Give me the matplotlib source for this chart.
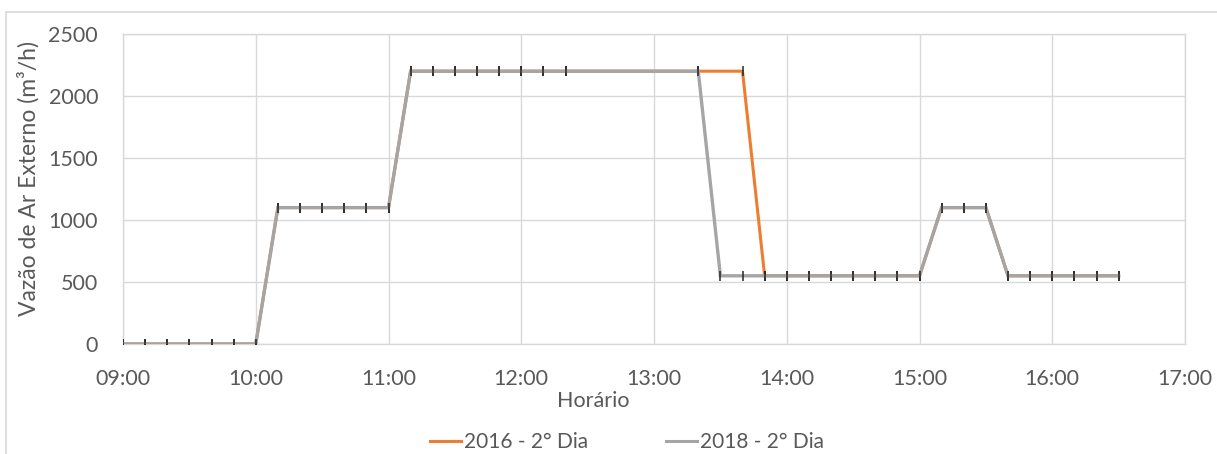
import matplotlib
matplotlib.use("Agg")
import matplotlib.pyplot as plt
from matplotlib.lines import Line2D
from matplotlib.ticker import FixedLocator, FuncFormatter

# Outdoor-air flow rate readings, 10-minute intervals
times_2018 = ["09:00", "09:10", "09:20", "09:30", "09:40", "09:50", "10:00",
              "10:10", "10:20", "10:30", "10:40", "10:50", "11:00",
              "11:10", "11:20", "11:30", "11:40", "11:50", "12:00", "12:10", "12:20",
              "13:20",
              "13:30", "13:40", "13:50", "14:00", "14:10", "14:20", "14:30", "14:40", "14:50", "15:00",
              "15:10", "15:20", "15:30",
              "15:40", "15:50", "16:00", "16:10", "16:20", "16:30"]
flow_2018 = [0, 0, 0, 0, 0, 0, 0,
             1100, 1100, 1100, 1100, 1100, 1100,
             2200, 2200, 2200, 2200, 2200, 2200, 2200, 2200,
             2200,
             550, 550, 550, 550, 550, 550, 550, 550, 550, 550,
             1100, 1100, 1100,
             550, 550, 550, 550, 550, 550]

times_2016 = ["09:00", "09:10", "09:20", "09:30", "09:40", "09:50", "10:00",
              "10:10", "10:20", "10:30", "10:40", "10:50", "11:00",
              "11:10", "11:20", "11:30", "11:40", "11:50", "12:00", "12:10", "12:20",
              "13:20", "13:40",
              "13:50", "14:00", "14:10", "14:20", "14:30", "14:40", "14:50", "15:00",
              "15:10", "15:20", "15:30",
              "15:40", "15:50", "16:00", "16:10", "16:20", "16:30"]
flow_2016 = [0, 0, 0, 0, 0, 0, 0,
             1100, 1100, 1100, 1100, 1100, 1100,
             2200, 2200, 2200, 2200, 2200, 2200, 2200, 2200,
             2200, 2200,
             550, 550, 550, 550, 550, 550, 550, 550,
             1100, 1100, 1100,
             550, 550, 550, 550, 550, 550]

series_labels = ["2016 - 2° Dia", "2018 - 2° Dia"]
hour_ticks = [9, 10, 11, 12, 13, 14, 15, 16, 17]
y_ticks = [0, 500, 1000, 1500, 2000, 2500]


def to_hours(t):
    h, m = t.split(":")
    return int(h) + int(m) / 60.0


TEXT = "#595959"
GRID = "#D9D9D9"
ORANGE = "#ED7D31"
GREY = "#A5A5A5"
FS = 15.5

plt.rcParams["font.family"] = ["Lato", "DejaVu Sans"]

W, H = 1217, 454
fig = plt.figure(figsize=(W / 100, H / 100), dpi=100)
ax = fig.add_axes([123 / W, 1 - 344 / H, (1185 - 123) / W, (344 - 34) / H])

x16 = [to_hours(t) for t in times_2016]
x18 = [to_hours(t) for t in times_2018]

ax.plot(x16, flow_2016, color=ORANGE, lw=2.2, marker="|", ms=7, mew=1.1,
        mec="#262626", zorder=3, solid_joinstyle="miter")
ax.plot(x18, flow_2018, color=GREY, lw=2.4, marker="|", ms=7, mew=1.1,
        mec="#262626", zorder=4, solid_joinstyle="miter")

ax.set_xlim(9, 17)
ax.set_ylim(0, 2500)
ax.xaxis.set_major_locator(FixedLocator(hour_ticks))
ax.xaxis.set_major_formatter(FuncFormatter(lambda v, p: f"{int(round(v)):02d}:00"))
ax.yaxis.set_major_locator(FixedLocator(y_ticks))
ax.yaxis.set_major_formatter(FuncFormatter(lambda v, p: f"{int(v)}"))

ax.grid(True, color=GRID, lw=1.0)
ax.set_axisbelow(True)
for s in ax.spines.values():
    s.set_color(GRID)
    s.set_linewidth(1.0)
ax.tick_params(axis="both", length=0, labelsize=FS, labelcolor=TEXT)
ax.tick_params(axis="x", pad=18)
ax.tick_params(axis="y", pad=18)

fig.text(28 / W, 1 - 178 / H, "Vazão de Ar Externo (m³/h)", rotation=90,
         ha="center", va="center", fontsize=16.5, color=TEXT)
fig.text(593 / W, 1 - 407 / H, "Horário", ha="center", va="baseline",
         fontsize=FS, color=TEXT)

handles = [Line2D([], [], color=ORANGE, lw=2.2), Line2D([], [], color=GREY, lw=2.2)]
fig.legend(handles, series_labels, loc="center", bbox_to_anchor=(627 / W, 1 - 442 / H),
           ncol=2, frameon=False, fontsize=15, labelcolor=TEXT, handlelength=1.5,
           handletextpad=0.15, columnspacing=3.7, borderpad=0.1)

# chart area outline
fig.add_artist(Line2D([6 / W, 1], [1 - 12 / H, 1 - 12 / H], color=GRID, lw=1.2,
                      transform=fig.transFigure))
fig.add_artist(Line2D([6 / W, 6 / W], [0, 1 - 12 / H], color=GRID, lw=1.2,
                      transform=fig.transFigure))

fig.savefig("out.png", dpi=100)
